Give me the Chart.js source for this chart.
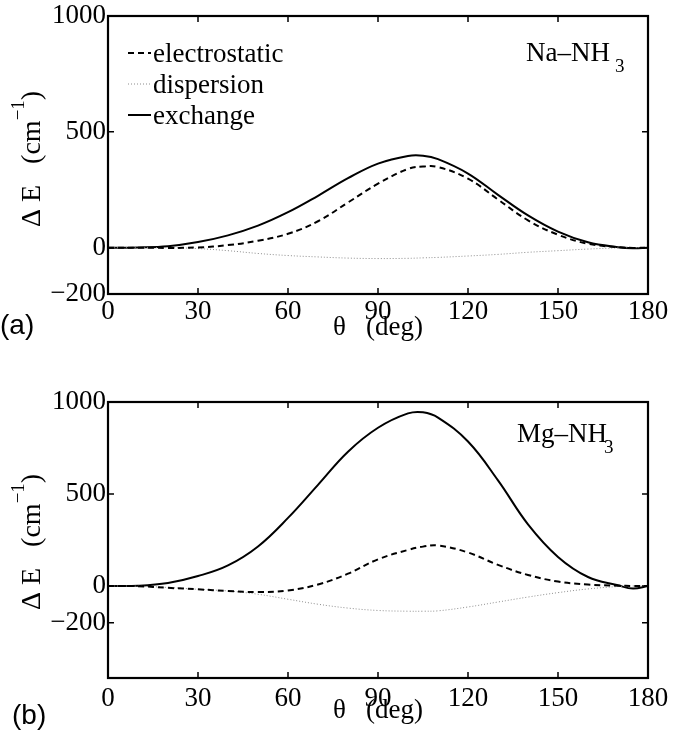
<!DOCTYPE html>
<html>
<head>
<meta charset="utf-8">
<script src="https://cdn.jsdelivr.net/npm/chart.js@4.4.1/dist/chart.umd.min.js"></script>
<style>
  body { margin: 0; background: #fff; }
  canvas { position: absolute; left: 0; }
  #chartA { top: 0; }
  #chartB { top: 366px; }
</style>
</head>
<body>
<canvas id="chartA" width="682" height="366"></canvas>
<canvas id="chartB" width="682" height="366"></canvas>
<script>
// theta (deg)
const angles = [0, 10, 20, 30, 40, 50, 60, 70, 80, 90, 100, 105, 110, 120, 130, 140, 150, 160, 170, 175, 180];

// (a) Na-NH3, cm^-1
const naElectrostatic = [0, 0, -1, 1, 11, 30, 60, 114, 195, 276, 340, 350, 348, 298, 208, 118, 56, 17, 2, -1, 0];
const naDispersion    = [0, 0, 0, -4, -13, -25, -34, -40, -45, -47, -46, -44, -42, -36, -29, -20, -13, -6, -1, 0, 0];
const naExchange      = [0, 1, 6, 24, 53, 95, 153, 224, 300, 363, 396, 397, 382, 320, 228, 139, 69, 23, 2, -2, 0];

// (b) Mg-NH3, cm^-1
const mgElectrostatic = [0, -1, -10, -18, -27, -33, -24, 8, 67, 145, 196, 214, 220, 182, 115, 60, 24, 8, 2, 0, 0];
const mgDispersion    = [0, -1, -8, -18, -27, -45, -72, -99, -120, -133, -137, -137, -135, -114, -87, -60, -36, -16, -3, 0, 0];
const mgExchange      = [0, 1, 16, 54, 112, 215, 370, 550, 730, 860, 938, 944, 915, 785, 574, 335, 158, 49, 4, -14, 0];

const xTicks = [0, 30, 60, 90, 120, 150, 180];
const yTicks = [-200, 0, 500, 1000];
const seriesNames = ['electrostatic', 'dispersion', 'exchange'];

const SERIF = '"Liberation Serif", "Times New Roman", serif';

function points(ys) {
  return angles.map((a, i) => ({ x: a, y: ys[i] }));
}

function makeDatasets(elec, disp, exch) {
  return [
    { label: seriesNames[0], data: points(elec), borderColor: '#000', borderWidth: 2, borderDash: [6, 4] },
    { label: seriesNames[1], data: points(disp), borderColor: '#8c8c8c', borderWidth: 1, borderDash: [1, 2] },
    { label: seriesNames[2], data: points(exch), borderColor: '#000', borderWidth: 2 }
  ];
}

// box + inward ticks on all four sides
const framePlugin = {
  id: 'frame',
  afterDatasetsDraw(chart) {
    const { ctx, chartArea: a, scales: { x, y } } = chart;
    ctx.save();
    ctx.strokeStyle = '#000';
    ctx.lineWidth = 1.5;
    ctx.beginPath();
    x.ticks.forEach(t => {
      const px = x.getPixelForValue(t.value);
      ctx.moveTo(px, a.bottom); ctx.lineTo(px, a.bottom - 6);
      ctx.moveTo(px, a.top); ctx.lineTo(px, a.top + 6);
    });
    y.ticks.forEach(t => {
      const py = y.getPixelForValue(t.value);
      ctx.moveTo(a.left, py); ctx.lineTo(a.left + 6, py);
      ctx.moveTo(a.right, py); ctx.lineTo(a.right - 6, py);
    });
    ctx.stroke();
    ctx.lineWidth = 2.2;
    ctx.strokeRect(a.left, a.top, a.right - a.left, a.bottom - a.top);
    ctx.restore();
  }
};

// panel letter, y title with superscript, molecule label, in-plot legend
const notesPlugin = {
  id: 'notes',
  afterDraw(chart, args, o) {
    const ctx = chart.ctx;
    ctx.save();
    ctx.fillStyle = '#000';
    ctx.textBaseline = 'middle';
    ctx.font = '28px "Liberation Sans", Arial, sans-serif';
    ctx.fillText(o.panel, o.panelX, o.panelY);

    // y axis title, rotated
    ctx.save();
    ctx.translate(40, o.yTitleStart);
    ctx.rotate(-Math.PI / 2);
    ctx.textBaseline = 'alphabetic';
    ctx.font = '28px ' + SERIF;
    let px = 0;
    const main = 'Δ E   (cm';
    ctx.fillText(main, px, 0);
    px += ctx.measureText(main).width;
    ctx.font = '19px ' + SERIF;
    ctx.fillText('\u22121', px, -16);
    px += ctx.measureText('\u22121').width;
    ctx.font = '28px ' + SERIF;
    ctx.fillText(')', px, 0);
    ctx.restore();

    ctx.textBaseline = 'alphabetic';
    ctx.font = '27px ' + SERIF;
    ctx.fillText(o.molecule, o.molX, o.molY);
    ctx.font = '19px ' + SERIF;
    ctx.fillText('3', o.subX, o.subY);

    if (o.legend) {
      ctx.font = '27px ' + SERIF;
      chart.data.datasets.forEach((ds, i) => {
        const base = 62 + i * 31;
        ctx.save();
        ctx.strokeStyle = ds.borderColor;
        ctx.lineWidth = ds.borderWidth;
        ctx.setLineDash(ds.borderDash || []);
        ctx.beginPath();
        ctx.moveTo(128, base - 9);
        ctx.lineTo(151, base - 9);
        ctx.stroke();
        ctx.restore();
        ctx.fillText(ds.label, 153, base);
      });
    }
    ctx.restore();
  }
};

function makeChart(id, datasets, yMin, opts) {
  return new Chart(document.getElementById(id), {
    type: 'line',
    data: { datasets },
    options: {
      responsive: false,
      animation: false,
      events: [],
      layout: { padding: { top: opts.top, right: 34, left: 0, bottom: 0 } },
      elements: {
        point: { radius: 0 },
        line: { tension: 0.4, fill: false }
      },
      plugins: {
        legend: { display: false },
        tooltip: { enabled: false },
        notes: opts.notes
      },
      scales: {
        x: {
          type: 'linear', min: 0, max: 180,
          afterBuildTicks: s => { s.ticks = xTicks.map(v => ({ value: v })); },
          afterFit: s => { s.height = opts.xHeight; },
          grid: { display: false, drawTicks: false },
          border: { display: false },
          ticks: { color: '#000', padding: opts.xPad, maxRotation: 0, font: { family: SERIF, size: 27, lineHeight: 1 } },
          title: { display: true, text: 'θ   (deg)', color: '#000', padding: { top: 0, bottom: opts.titlePad }, font: { family: SERIF, size: 27 } }
        },
        y: {
          type: 'linear', min: yMin, max: 1000,
          afterBuildTicks: s => { s.ticks = yTicks.map(v => ({ value: v })); },
          afterFit: s => { s.width = 108; },
          grid: { display: false, drawTicks: false },
          border: { display: false },
          ticks: { color: '#000', padding: 2, font: { family: SERIF, size: 27, lineHeight: 1 }, callback: v => (v < 0 ? '\u2212' + Math.abs(v) : String(v)) },
          title: { display: false }
        }
      }
    },
    plugins: [framePlugin, notesPlugin]
  });
}

makeChart('chartA', makeDatasets(naElectrostatic, naDispersion, naExchange), -200, {
  top: 16, xHeight: 72, xPad: 4, titlePad: 22,
  notes: { panel: '(a)', panelX: 0, panelY: 326, yTitleStart: 227, molecule: 'Na\u2013NH', molX: 526, molY: 61, subX: 615, subY: 72, legend: true }
});

makeChart('chartB', makeDatasets(mgElectrostatic, mgDispersion, mgExchange), -500, {
  top: 36, xHeight: 54, xPad: 7, titlePad: 5,
  notes: { panel: '(b)', panelX: 12, panelY: 350, yTitleStart: 244, molecule: 'Mg\u2013NH', molX: 517, molY: 76, subX: 604, subY: 87, legend: false }
});
</script>
</body>
</html>
